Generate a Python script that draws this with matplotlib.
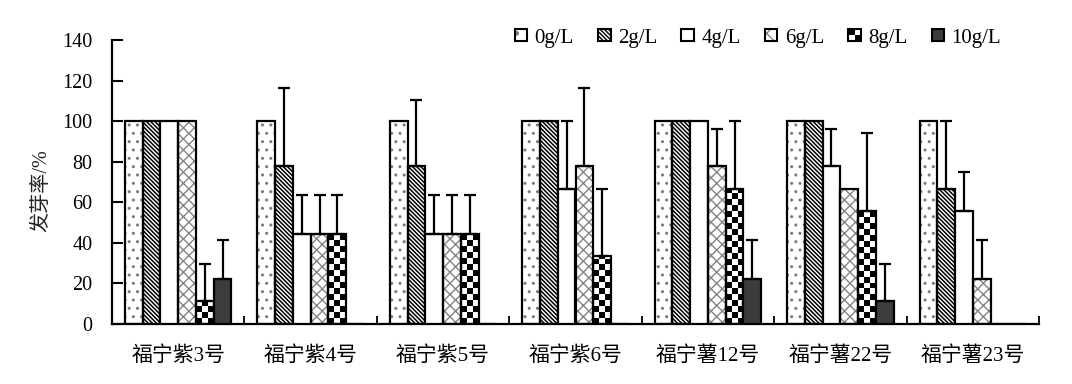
import numpy as np
import matplotlib
matplotlib.use("Agg")
import matplotlib.pyplot as plt
from matplotlib.patches import Rectangle, Patch
from matplotlib.legend_handler import HandlerBase

plt.rcParams['font.family'] = ['Liberation Serif', 'Noto Sans CJK SC']

# ---------------- data ----------------
varieties = ["福宁紫3号", "福宁紫4号", "福宁紫5号", "福宁紫6号",
             "福宁薯12号", "福宁薯22号", "福宁薯23号"]
concentrations = ["0g/L", "2g/L", "4g/L", "6g/L", "8g/L", "10g/L"]

rate_0 = [100, 100, 100, 100, 100, 100, 100]
rate_2 = [100, 77.8, 77.8, 100, 100, 100, 66.7]
rate_4 = [100, 44.4, 44.4, 66.7, 100, 77.8, 55.6]
rate_6 = [100, 44.4, 44.4, 77.8, 77.8, 66.7, 22.2]
rate_8 = [11.1, 44.4, 44.4, 33.3, 66.7, 55.6, 0]
rate_10 = [22.2, 0, 0, 0, 22.2, 11.1, 0]

err_0 = [0, 0, 0, 0, 0, 0, 0]
err_2 = [0, 38.5, 32.5, 0, 0, 0, 33.3]
err_4 = [0, 19.2, 19.2, 33.3, 0, 18.5, 19.2]
err_6 = [0, 19.2, 19.2, 38.5, 18.5, 0, 19.2]
err_8 = [18.5, 19.2, 19.2, 33.3, 33.3, 38.5, 0]
err_10 = [19.2, 0, 0, 0, 19.2, 18.5, 0]

rates = [rate_0, rate_2, rate_4, rate_6, rate_8, rate_10]
errs = [err_0, err_2, err_4, err_6, err_8, err_10]

# ---------------- figure ----------------
W, H = 10.72, 3.84
fig = plt.figure(figsize=(W, H), dpi=100)
ax_l, ax_b, ax_r, ax_t = 112 / 1072, 1 - 324 / 384, 1039 / 1072, 1 - 40 / 384
ax = fig.add_axes([ax_l, ax_b, ax_r - ax_l, ax_t - ax_b])

n_groups = len(varieties)
x = np.arange(n_groups)
bw = 0.134
offsets = (np.arange(6) - 2.5) * bw

styles = [
    dict(hatch='..', hcolor='#7a7a7a', face='white', hlw=1.0, lhatch='.'),
    dict(hatch='\\' * 8, hcolor='black', face='white', hlw=1.1, lhatch='\\' * 8),
    dict(hatch=None, hcolor='black', face='white', hlw=1.0, lhatch=None),
    dict(hatch='xxx', hcolor='#858585', face='white', hlw=1.0, lhatch='xx'),
    dict(hatch='checker', hcolor='black', face='white', hlw=1.0, lhatch=None),
    dict(hatch=None, hcolor='black', face='#3c3c3c', hlw=1.0, lhatch=None),
]

ylim = (0, 140)
xlim = (-0.5, n_groups - 0.5)
px_per_x = (ax_r - ax_l) * W * 100 / (xlim[1] - xlim[0])
px_per_y = (ax_t - ax_b) * H * 100 / (ylim[1] - ylim[0])

EDGE_LW = 1.6

for k in range(6):
    st = styles[k]
    xs = x + offsets[k]
    vals = np.array(rates[k], dtype=float)
    if st['hatch'] not in (None, 'checker'):
        with plt.rc_context({'hatch.linewidth': st['hlw']}):
            hb = ax.bar(xs, vals, width=bw, color=st['face'], edgecolor=st['hcolor'],
                        hatch=st['hatch'], linewidth=0, zorder=2)
            for p in hb:
                if hasattr(p, 'set_hatch_linewidth'):
                    p.set_hatch_linewidth(st['hlw'])
        face = 'none'
    elif st['hatch'] == 'checker':
        face = 'none'
    else:
        face = st['face']
    bars = ax.bar(xs, vals, width=bw, facecolor=face, edgecolor='black',
                  linewidth=EDGE_LW, zorder=3)
    if st['hatch'] == 'checker':
        for b in bars:
            h = b.get_height()
            if h <= 0:
                continue
            ncols = 3
            cw = b.get_width() / ncols
            ch = cw * px_per_x / px_per_y
            nrows = int(np.ceil(h / ch))
            arr = (np.add.outer(np.arange(nrows), np.arange(ncols)) % 2).astype(float)
            im = ax.imshow(arr, cmap='gray', vmin=0, vmax=1, origin='lower',
                           extent=(b.get_x(), b.get_x() + b.get_width(), 0, nrows * ch),
                           aspect='auto', interpolation='nearest', zorder=2.5)
            im.set_clip_path(b)
    e = np.array(errs[k], dtype=float)
    m = e > 0
    if m.any():
        ax.errorbar(xs[m], vals[m], yerr=[np.zeros(m.sum()), e[m]], fmt='none',
                    ecolor='black', elinewidth=EDGE_LW, capsize=4.5, capthick=EDGE_LW, zorder=4)

ax.set_xlim(*xlim)
ax.set_ylim(*ylim)
ax.set_yticks(np.arange(0, 141, 20))
ax.set_xticks(x)
ax.set_xticklabels(varieties, fontsize=15)
ax.set_xticks(np.arange(-0.5, n_groups, 1), minor=True)
ax.tick_params(axis='x', which='major', length=0, pad=16)
ax.tick_params(axis='x', which='minor', direction='in', length=6, width=1.3)
ax.tick_params(axis='y', direction='in', length=8, width=1.5, labelsize=14.5, pad=14)
for s in ['top', 'right']:
    ax.spines[s].set_visible(False)
ax.spines['left'].set_linewidth(EDGE_LW)
ax.spines['bottom'].set_linewidth(EDGE_LW)
ax.set_ylabel("发芽率/%", fontsize=14.5, color='#222222')
ax.yaxis.set_label_coords(-0.065, 0.47)


def _box(xdescent, ydescent, width, height):
    s = min(width, height)
    return -xdescent + (width - s) / 2, -ydescent + (height - s) / 2, s


class CheckerHandler(HandlerBase):
    def create_artists(self, legend, orig_handle, xdescent, ydescent, width,
                       height, fontsize, trans):
        x0, y0, s = _box(xdescent, ydescent, width, height)
        arts = []
        for i in range(2):
            for j in range(2):
                c = 'black' if (i + j) % 2 == 1 else 'white'
                arts.append(Rectangle((x0 + i * s / 2, y0 + j * s / 2), s / 2, s / 2,
                                      facecolor=c, edgecolor='none', transform=trans))
        arts.append(Rectangle((x0, y0), s, s, facecolor='none', edgecolor='black',
                              linewidth=1.5, transform=trans))
        return arts


class SquareHandler(HandlerBase):
    def __init__(self, st):
        super().__init__()
        self.st = st

    def create_artists(self, legend, orig_handle, xdescent, ydescent, width,
                       height, fontsize, trans):
        x0, y0, s = _box(xdescent, ydescent, width, height)
        arts = []
        if self.st['lhatch']:
            arts.append(Rectangle((x0, y0), s, s, facecolor=self.st['face'],
                                  edgecolor=self.st['hcolor'], hatch=self.st['lhatch'],
                                  linewidth=0, transform=trans))
            face = 'none'
        else:
            face = self.st['face']
        arts.append(Rectangle((x0, y0), s, s, facecolor=face, edgecolor='black',
                              linewidth=1.5, transform=trans))
        return arts


handles = []
handler_map = {}
for k, lab in enumerate(concentrations):
    st = styles[k]
    p = Patch(facecolor='white', label=lab)
    handler_map[p] = CheckerHandler() if st['hatch'] == 'checker' else SquareHandler(st)
    handles.append(p)

fig.legend(handles=handles, labels=concentrations, handler_map=handler_map,
           loc='center', bbox_to_anchor=(0.707, 0.901), ncol=6, frameon=False,
           fontsize=15, handlelength=0.6, handleheight=0.6, handletextpad=0.35,
           columnspacing=1.17)

fig.savefig("out.png", dpi=100)
